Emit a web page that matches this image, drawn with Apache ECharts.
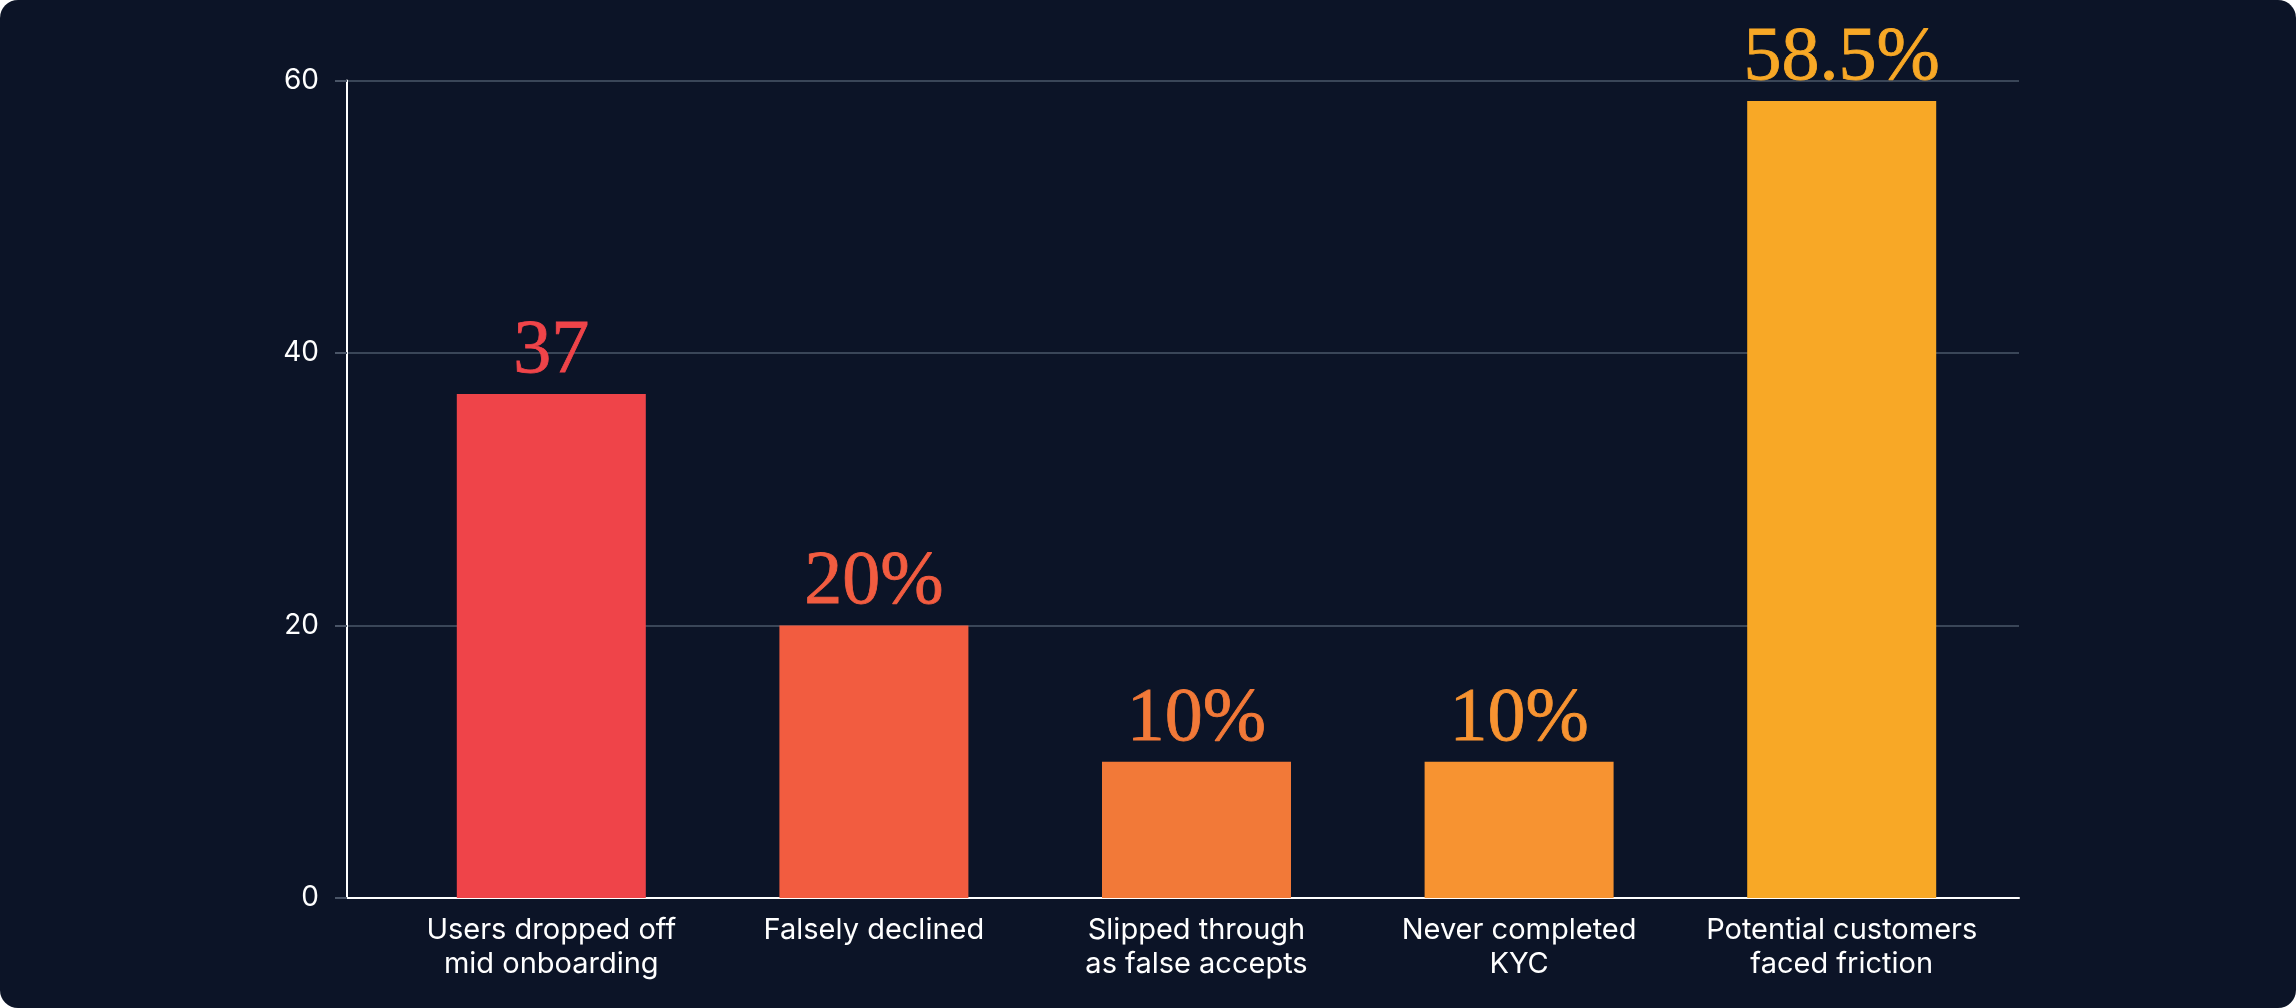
<!DOCTYPE html>
<html>
<head>
<meta charset="utf-8">
<script src="https://cdn.jsdelivr.net/npm/echarts@6/dist/echarts.min.js"></script>
<style>
  html, body { margin: 0; padding: 0; background: #ffffff; }
  #chart { width: 2296px; height: 1008px; background: #0C1427; border-radius: 18px; overflow: hidden; }
</style>
</head>
<body>
<div id="chart"></div>
<script>
const categories = [
  'Users dropped off\nmid onboarding',
  'Falsely declined',
  'Slipped through\nas false accepts',
  'Never completed\nKYC',
  'Potential customers\nfaced friction'
];
const values = [37, 20, 10, 10, 58.5];
const valueLabels = ['37', '20%', '10%', '10%', '58.5%'];
const barColors = ['#EF4449', '#F25C40', '#F27938', '#F79331', '#F8A826'];
const yTicks = [0, 20, 40, 60];

const chart = echarts.init(document.getElementById('chart'), null, { renderer: 'canvas' });

const gridTop = 80.5, gridBottom = 1008 - 898;

chart.setOption({
  backgroundColor: 'transparent',
  animation: false,
  grid: [
    { left: 347, right: 2296 - 2019, top: gridTop, bottom: gridBottom, containLabel: false },
    { left: 390, right: 2296 - 2003, top: gridTop, bottom: gridBottom, containLabel: false }
  ],
  xAxis: [
    {
      gridIndex: 0, type: 'category', data: categories,
      axisLine: { show: true, lineStyle: { color: '#FFFFFF', width: 2 } },
      axisTick: { show: false }, axisLabel: { show: false }, splitLine: { show: false }
    },
    {
      gridIndex: 1, type: 'category', data: categories,
      axisLine: { show: false }, axisTick: { show: false },
      axisLabel: {
        color: '#FFFFFF', fontFamily: 'Inter', fontSize: 29, lineHeight: 34,
        margin: 15, interval: 0, align: 'center'
      }
    }
  ],
  yAxis: [
    {
      gridIndex: 0, type: 'value', min: yTicks[0], max: yTicks[yTicks.length - 1], interval: 20,
      axisLine: { show: true, lineStyle: { color: '#FFFFFF', width: 2 } },
      axisTick: { show: true, length: 12, lineStyle: { color: '#4A5567', width: 2 } },
      axisLabel: { color: '#FFFFFF', fontFamily: 'Inter', fontSize: 28, margin: 28 },
      splitLine: { show: true, lineStyle: { color: '#3A4658', width: 2 } }
    },
    {
      gridIndex: 1, type: 'value', min: yTicks[0], max: yTicks[yTicks.length - 1], interval: 20,
      show: false, splitLine: { show: false }
    }
  ],
  series: [{
    type: 'bar',
    xAxisIndex: 1, yAxisIndex: 1,
    barWidth: 189,
    data: values.map((v, i) => ({
      value: v,
      itemStyle: { color: barColors[i] },
      label: { color: barColors[i], textBorderColor: barColors[i] }
    })),
    label: {
      show: true, position: 'top', distance: 4,
      fontFamily: '"Liberation Serif", "DejaVu Serif", serif',
      fontSize: 76, lineHeight: 76, textBorderWidth: 0.8,
      formatter: p => valueLabels[p.dataIndex]
    }
  }]
});
</script>
</body>
</html>
